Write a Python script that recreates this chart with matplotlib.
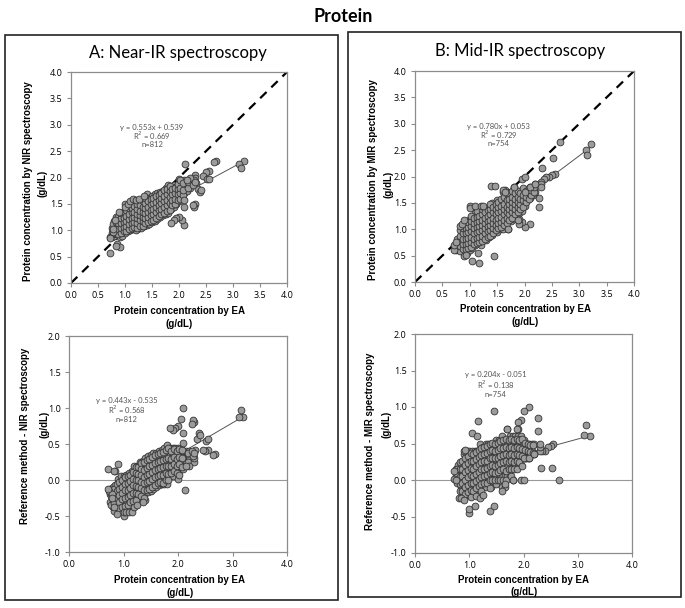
import numpy as np
import matplotlib
matplotlib.use("Agg")
import matplotlib.pyplot as plt
from matplotlib.patches import Rectangle

# (EA, NIR) protein values, g/dL
nir_points = np.array([
    (0.75, 0.88), (0.75, 0.95), (0.75, 1.05),
    (0.80, 0.90), (0.80, 1.00), (0.80, 1.10), (0.80, 1.18),
    (0.85, 0.92), (0.85, 1.02), (0.85, 1.12), (0.85, 1.20),
    (0.90, 0.88), (0.90, 0.98), (0.90, 1.08), (0.90, 1.15), (0.90, 1.22),
    (0.95, 0.90), (0.95, 1.00), (0.95, 1.10), (0.95, 1.18), (0.95, 1.28),
    (1.00, 0.95), (1.00, 1.03), (1.00, 1.12), (1.00, 1.20), (1.00, 1.30),
    (1.05, 0.98), (1.05, 1.06), (1.05, 1.15), (1.05, 1.25), (1.05, 1.35),
    (1.10, 1.00), (1.10, 1.08), (1.10, 1.18), (1.10, 1.28), (1.10, 1.38), (1.10, 1.45),
    (1.15, 1.02), (1.15, 1.12), (1.15, 1.20), (1.15, 1.30), (1.15, 1.40),
    (1.20, 1.00), (1.20, 1.10), (1.20, 1.18), (1.20, 1.26), (1.20, 1.35), (1.20, 1.45),
    (1.25, 1.05), (1.25, 1.15), (1.25, 1.22), (1.25, 1.32), (1.25, 1.42), (1.25, 1.52),
    (1.30, 1.05), (1.30, 1.12), (1.30, 1.22), (1.30, 1.30), (1.30, 1.40), (1.30, 1.50),
    (1.35, 1.08), (1.35, 1.18), (1.35, 1.28), (1.35, 1.36), (1.35, 1.45), (1.35, 1.55),
    (1.40, 1.10), (1.40, 1.20), (1.40, 1.30), (1.40, 1.38), (1.40, 1.48), (1.40, 1.58), (1.40, 1.68),
    (1.45, 1.12), (1.45, 1.22), (1.45, 1.32), (1.45, 1.42), (1.45, 1.52), (1.45, 1.62),
    (1.50, 1.15), (1.50, 1.25), (1.50, 1.35), (1.50, 1.45), (1.50, 1.55), (1.50, 1.65),
    (1.55, 1.18), (1.55, 1.28), (1.55, 1.38), (1.55, 1.48), (1.55, 1.58), (1.55, 1.68),
    (1.60, 1.22), (1.60, 1.32), (1.60, 1.42), (1.60, 1.50), (1.60, 1.60), (1.60, 1.70),
    (1.65, 1.25), (1.65, 1.35), (1.65, 1.45), (1.65, 1.55), (1.65, 1.65), (1.65, 1.72),
    (1.70, 1.28), (1.70, 1.38), (1.70, 1.48), (1.70, 1.58), (1.70, 1.68), (1.70, 1.75),
    (1.75, 1.30), (1.75, 1.42), (1.75, 1.52), (1.75, 1.62), (1.75, 1.72), (1.75, 1.80),
    (1.80, 1.32), (1.80, 1.45), (1.80, 1.55), (1.80, 1.65), (1.80, 1.75), (1.80, 1.85),
    (1.85, 1.40), (1.85, 1.50), (1.85, 1.60), (1.85, 1.70), (1.85, 1.80),
    (1.90, 1.45), (1.90, 1.55), (1.90, 1.65), (1.90, 1.75), (1.90, 1.85),
    (1.95, 1.50), (1.95, 1.62), (1.95, 1.72), (1.95, 1.82),
    (2.00, 1.55), (2.00, 1.65), (2.00, 1.75), (2.00, 1.90), (2.00, 1.98),
    (2.05, 1.62), (2.05, 1.72), (2.05, 1.85), (2.10, 1.45), (2.10, 1.70),
    (2.10, 1.80), (2.10, 1.95), (2.15, 1.75), (2.15, 1.88), (2.20, 1.80), (2.20, 1.92),
    # in-between points of the dense cloud
    (0.775, 0.92), (0.775, 1.00), (0.775, 1.12),
    (0.825, 0.95), (0.825, 1.05), (0.825, 1.15), (0.825, 1.25),
    (0.875, 0.93), (0.875, 1.03), (0.875, 1.13), (0.875, 1.25),
    (0.925, 0.95), (0.925, 1.05), (0.925, 1.13), (0.925, 1.23), (0.925, 1.32),
    (0.975, 0.98), (0.975, 1.07), (0.975, 1.16), (0.975, 1.24), (0.975, 1.35),
    (1.025, 0.99), (1.025, 1.08), (1.025, 1.17), (1.025, 1.27), (1.025, 1.38),
    (1.075, 1.02), (1.075, 1.11), (1.075, 1.21), (1.075, 1.31), (1.075, 1.42),
    (1.125, 1.05), (1.125, 1.14), (1.125, 1.24), (1.125, 1.34), (1.125, 1.43),
    (1.175, 1.06), (1.175, 1.16), (1.175, 1.25), (1.175, 1.35), (1.175, 1.46),
    (1.225, 1.04), (1.225, 1.13), (1.225, 1.23), (1.225, 1.31), (1.225, 1.40), (1.225, 1.50),
    (1.275, 1.09), (1.275, 1.19), (1.275, 1.28), (1.275, 1.37), (1.275, 1.47),
    (1.325, 1.09), (1.325, 1.17), (1.325, 1.26), (1.325, 1.35), (1.325, 1.44), (1.325, 1.55),
    (1.375, 1.13), (1.375, 1.23), (1.375, 1.33), (1.375, 1.42), (1.375, 1.51), (1.375, 1.62),
    (1.425, 1.15), (1.425, 1.26), (1.425, 1.35), (1.425, 1.45), (1.425, 1.56),
    (1.475, 1.18), (1.475, 1.28), (1.475, 1.39), (1.475, 1.49), (1.475, 1.60),
    (1.525, 1.20), (1.525, 1.31), (1.525, 1.41), (1.525, 1.51), (1.525, 1.62),
    (1.575, 1.23), (1.575, 1.34), (1.575, 1.44), (1.575, 1.54), (1.575, 1.64),
    (1.625, 1.27), (1.625, 1.38), (1.625, 1.47), (1.625, 1.57), (1.625, 1.67),
    (1.675, 1.30), (1.675, 1.41), (1.675, 1.51), (1.675, 1.61), (1.675, 1.70),
    (1.725, 1.33), (1.725, 1.45), (1.725, 1.55), (1.725, 1.65), (1.725, 1.76),
    (1.775, 1.36), (1.775, 1.48), (1.775, 1.58), (1.775, 1.68), (1.775, 1.78),
    (1.825, 1.38), (1.825, 1.52), (1.825, 1.63), (1.825, 1.74), (1.825, 1.83),
    (1.875, 1.47), (1.875, 1.58), (1.875, 1.68), (1.875, 1.78),
    (1.925, 1.50), (1.925, 1.60), (1.925, 1.70), (1.925, 1.80),
    (1.975, 1.57), (1.975, 1.68), (1.975, 1.78), (1.975, 1.88),
    (2.025, 1.60), (2.025, 1.70), (2.025, 1.80), (2.025, 1.95),
    (2.075, 1.66), (2.075, 1.77), (2.075, 1.90), (2.175, 1.80), (2.175, 1.92),
    # scattered points away from the main cloud
    (2.12, 2.26), (2.68, 2.32), (3.20, 2.32), (3.12, 2.25), (3.15, 2.18),
    (2.55, 2.13), (2.50, 2.10), (2.45, 2.03), (2.52, 1.98), (2.30, 2.05),
    (2.30, 2.00), (2.28, 1.95), (2.32, 1.90), (2.35, 1.78), (2.38, 1.73),
    (2.30, 1.50), (2.28, 1.45), (2.25, 1.47), (2.10, 1.10), (2.05, 1.20),
    (2.00, 1.25), (1.95, 1.23), (1.90, 1.20), (1.85, 1.13), (0.72, 0.57),
    (0.85, 0.73), (0.90, 0.68), (0.73, 0.88), (0.78, 0.97), (0.88, 1.35),
    (1.00, 1.50), (1.00, 1.45), (1.05, 1.50), (1.10, 1.55), (1.15, 1.60),
    (1.20, 1.58), (1.25, 1.60), (1.35, 1.65), (2.40, 1.77), (2.55, 1.98),
    (2.65, 2.30), (2.20, 2.00), (2.15, 1.95), (2.25, 1.85), (2.30, 1.92),
    (0.72, 0.85), (0.78, 1.03), (0.82, 1.19), (0.83, 0.71), (2.10, 1.58),
])

# (EA, MIR) protein values, g/dL
mir_points = np.array([
    (0.75, 0.60), (0.75, 0.70), (0.80, 0.60), (0.80, 0.70), (0.80, 0.80),
    (0.85, 0.65), (0.85, 0.75), (0.85, 0.85), (0.85, 0.95),
    (0.90, 0.55), (0.90, 0.65), (0.90, 0.75), (0.90, 0.85), (0.90, 0.95), (0.90, 1.05),
    (0.95, 0.55), (0.95, 0.70), (0.95, 0.80), (0.95, 0.90), (0.95, 1.00), (0.95, 1.10),
    (1.00, 0.60), (1.00, 0.70), (1.00, 0.80), (1.00, 0.90), (1.00, 1.00), (1.00, 1.10), (1.00, 1.20),
    (1.05, 0.65), (1.05, 0.75), (1.05, 0.85), (1.05, 0.95), (1.05, 1.05), (1.05, 1.15),
    (1.10, 0.70), (1.10, 0.80), (1.10, 0.90), (1.10, 1.00), (1.10, 1.10), (1.10, 1.20), (1.10, 1.30),
    (1.15, 0.75), (1.15, 0.85), (1.15, 0.95), (1.15, 1.05), (1.15, 1.15), (1.15, 1.25),
    (1.20, 0.70), (1.20, 0.80), (1.20, 0.90), (1.20, 1.00), (1.20, 1.10), (1.20, 1.20), (1.20, 1.30),
    (1.25, 0.80), (1.25, 0.90), (1.25, 1.00), (1.25, 1.10), (1.25, 1.20), (1.25, 1.30),
    (1.30, 0.80), (1.30, 0.90), (1.30, 1.00), (1.30, 1.10), (1.30, 1.20), (1.30, 1.30), (1.30, 1.40),
    (1.35, 0.85), (1.35, 0.95), (1.35, 1.05), (1.35, 1.15), (1.35, 1.25), (1.35, 1.35),
    (1.40, 0.90), (1.40, 1.00), (1.40, 1.10), (1.40, 1.20), (1.40, 1.30), (1.40, 1.40), (1.40, 1.50),
    (1.45, 0.95), (1.45, 1.05), (1.45, 1.15), (1.45, 1.25), (1.45, 1.35), (1.45, 1.45),
    (1.50, 0.95), (1.50, 1.05), (1.50, 1.15), (1.50, 1.25), (1.50, 1.35), (1.50, 1.45), (1.50, 1.55),
    (1.55, 1.00), (1.55, 1.10), (1.55, 1.20), (1.55, 1.30), (1.55, 1.40), (1.55, 1.50),
    (1.60, 1.00), (1.60, 1.10), (1.60, 1.20), (1.60, 1.30), (1.60, 1.40), (1.60, 1.55), (1.60, 1.70),
    (1.65, 1.10), (1.65, 1.25), (1.65, 1.35), (1.65, 1.45), (1.65, 1.60), (1.65, 1.75),
    (1.70, 1.00), (1.70, 1.20), (1.70, 1.30), (1.70, 1.40), (1.70, 1.50), (1.70, 1.65),
    (1.75, 1.15), (1.75, 1.25), (1.75, 1.35), (1.75, 1.50), (1.75, 1.60), (1.75, 1.70),
    (1.80, 1.20), (1.80, 1.30), (1.80, 1.45), (1.80, 1.55), (1.80, 1.65), (1.80, 1.80),
    (1.85, 1.25), (1.85, 1.40), (1.85, 1.55), (1.85, 1.65),
    (1.90, 1.30), (1.90, 1.45), (1.90, 1.60), (1.90, 1.70),
    (1.95, 1.35), (1.95, 1.50), (1.95, 1.65), (1.95, 1.75),
    (2.00, 1.45), (2.00, 1.60), (2.00, 1.70), (2.05, 1.55), (2.05, 1.65), (2.05, 1.75),
    (2.10, 1.60), (2.10, 1.70), (2.10, 1.80), (2.15, 1.65), (2.15, 1.75), (2.20, 1.70), (2.20, 1.85),
    # in-between points of the dense cloud
    (0.775, 0.62), (0.775, 0.72), (0.775, 0.82),
    (0.825, 0.58), (0.825, 0.68), (0.825, 0.78), (0.825, 0.88), (0.825, 0.98),
    (0.875, 0.62), (0.875, 0.72), (0.875, 0.82), (0.875, 0.92), (0.875, 1.02),
    (0.925, 0.62), (0.925, 0.72), (0.925, 0.82), (0.925, 0.92), (0.925, 1.02), (0.925, 1.12),
    (0.975, 0.64), (0.975, 0.74), (0.975, 0.84), (0.975, 0.94), (0.975, 1.04), (0.975, 1.14),
    (1.025, 0.66), (1.025, 0.76), (1.025, 0.86), (1.025, 0.96), (1.025, 1.06), (1.025, 1.16), (1.025, 1.26),
    (1.075, 0.72), (1.075, 0.82), (1.075, 0.92), (1.075, 1.02), (1.075, 1.12), (1.075, 1.22),
    (1.125, 0.74), (1.125, 0.84), (1.125, 0.94), (1.125, 1.04), (1.125, 1.14), (1.125, 1.24), (1.125, 1.34),
    (1.175, 0.76), (1.175, 0.86), (1.175, 0.96), (1.175, 1.06), (1.175, 1.16), (1.175, 1.26),
    (1.225, 0.78), (1.225, 0.88), (1.225, 0.98), (1.225, 1.08), (1.225, 1.18), (1.225, 1.28), (1.225, 1.38),
    (1.275, 0.82), (1.275, 0.92), (1.275, 1.02), (1.275, 1.12), (1.275, 1.22), (1.275, 1.32),
    (1.325, 0.86), (1.325, 0.96), (1.325, 1.06), (1.325, 1.16), (1.325, 1.26), (1.325, 1.36),
    (1.375, 0.88), (1.375, 0.98), (1.375, 1.08), (1.375, 1.18), (1.375, 1.28), (1.375, 1.38), (1.375, 1.48),
    (1.425, 0.92), (1.425, 1.02), (1.425, 1.12), (1.425, 1.22), (1.425, 1.32), (1.425, 1.42),
    (1.475, 0.98), (1.475, 1.08), (1.475, 1.18), (1.475, 1.28), (1.475, 1.38), (1.475, 1.48),
    (1.525, 1.02), (1.525, 1.12), (1.525, 1.22), (1.525, 1.32), (1.525, 1.42), (1.525, 1.52),
    (1.575, 1.04), (1.575, 1.14), (1.575, 1.24), (1.575, 1.34), (1.575, 1.44), (1.575, 1.58),
    (1.625, 1.08), (1.625, 1.18), (1.625, 1.28), (1.625, 1.38), (1.625, 1.48), (1.625, 1.62),
    (1.675, 1.12), (1.675, 1.22), (1.675, 1.32), (1.675, 1.42), (1.675, 1.55), (1.675, 1.68),
    (1.725, 1.18), (1.725, 1.28), (1.725, 1.38), (1.725, 1.48), (1.725, 1.58),
    (1.775, 1.22), (1.775, 1.32), (1.775, 1.42), (1.775, 1.52), (1.775, 1.62), (1.775, 1.72),
    (1.825, 1.28), (1.825, 1.38), (1.825, 1.48), (1.825, 1.58), (1.825, 1.68),
    (1.875, 1.32), (1.875, 1.42), (1.875, 1.52), (1.875, 1.62), (1.875, 1.72),
    (1.925, 1.38), (1.925, 1.48), (1.925, 1.58), (1.925, 1.68),
    (1.975, 1.42), (1.975, 1.55), (1.975, 1.65), (1.975, 1.78),
    (2.025, 1.52), (2.025, 1.62), (2.025, 1.72), (2.075, 1.58), (2.075, 1.68), (2.075, 1.78),
    (2.125, 1.64), (2.125, 1.74), (2.175, 1.70), (2.175, 1.80),
    # scattered points away from the main cloud
    (3.22, 2.62), (3.12, 2.50), (3.15, 2.40), (2.52, 2.36), (2.32, 2.16),
    (2.55, 2.05), (2.50, 2.03), (2.45, 2.00), (2.40, 2.00), (2.35, 1.95),
    (2.30, 1.90), (2.30, 1.85), (2.30, 1.80), (2.27, 1.60), (2.27, 1.42),
    (2.10, 1.10), (2.00, 1.05), (1.95, 1.13), (1.90, 1.10), (1.90, 1.20),
    (1.45, 0.50), (1.17, 0.36), (1.05, 0.40), (1.15, 0.55), (0.90, 0.50),
    (0.93, 0.52), (1.39, 1.82), (1.46, 1.82), (1.00, 1.45), (1.00, 1.40),
    (1.10, 1.45), (1.20, 1.45), (1.25, 1.45), (0.82, 1.07), (0.85, 1.10),
    (0.90, 1.18), (2.65, 2.65), (1.95, 1.95), (2.00, 2.00), (1.70, 1.00),
    (1.88, 1.18), (1.60, 1.75), (1.65, 1.70), (1.80, 1.80), (2.00, 1.70),
    (2.10, 1.80), (2.20, 1.85), (0.72, 0.60), (0.72, 0.70), (0.75, 0.75),
])

# fitted lines and their labels as printed on the chart
nir_fit = (0.553, 0.539)
mir_fit = (0.780, 0.053)
nir_diff_fit = (0.443, -0.535)
mir_diff_fit = (0.204, -0.051)
nir_labels = ["y = 0.553x + 0.539", "R$^2$ = 0.669", "n=812"]
mir_labels = ["y = 0.780x + 0.053", "R$^2$ = 0.729", "n=754"]
nir_diff_labels = ["y = 0.443x - 0.535", "R$^2$ = 0.568", "n=812"]
mir_diff_labels = ["y = 0.204x - 0.051", "R$^2$ = 0.138", "n=754"]

W, H = 685, 608
fig = plt.figure(figsize=(W / 100, H / 100), dpi=100)

TICKFONT = "Open Sans"
TITLEFONT = "Lato"
LABFONT = "Liberation Sans"


def px_axes(l, t, r, b):
    return fig.add_axes([l / W, 1 - b / H, (r - l) / W, (b - t) / H])


def style(ax):
    for s in ax.spines.values():
        s.set_color("#8c8c8c")
        s.set_linewidth(0.9)
    ax.tick_params(direction="out", length=3, width=0.8, color="#8c8c8c",
                   labelsize=6.5, pad=3)
    for lab in ax.get_xticklabels() + ax.get_yticklabels():
        lab.set_fontfamily(TICKFONT)


def scatter(ax, x, y, fit, labels, lx, ly, dy):
    xx = np.array([x.min(), x.max()])
    ax.plot(xx, fit[0] * xx + fit[1], color="#555555", lw=0.7, zorder=1)
    ax.scatter(x, y, s=24, facecolor="#9b9b9b", edgecolor="#333333",
               linewidth=0.6, zorder=3)
    for i, t in enumerate(labels):
        ax.text(lx, ly - i * dy, t, ha="center", va="center", fontsize=5.5,
                color="#555555", family=TITLEFONT)


def fig_text(x, y, s, **kw):
    fig.text(x / W, 1 - y / H, s, **kw)


ea_nir, nir = nir_points[:, 0], nir_points[:, 1]
ea_mir, mir = mir_points[:, 0], mir_points[:, 1]
nir_diff = ea_nir - nir
mir_diff = ea_mir - mir

# --- top panels: method vs EA
for (l, t, r, b), x, y, fit, labels, lx in [
        ((71, 72, 287, 283), ea_nir, nir, nir_fit, nir_labels, 1.5),
        ((415, 71, 634, 282), ea_mir, mir, mir_fit, mir_labels, 1.53)]:
    ax = px_axes(l, t, r, b)
    ax.plot([0, 4], [0, 4], color="black", lw=1.6, ls=(0, (4, 3)), zorder=2)
    scatter(ax, x, y, fit, labels, lx, 2.95, 0.165)
    ax.set_xlim(0, 4)
    ax.set_ylim(0, 4)
    ticks = np.arange(0, 4.01, 0.5)
    ax.set_xticks(ticks)
    ax.set_yticks(ticks)
    ax.set_xticklabels([f"{v:.1f}" for v in ticks])
    ax.set_yticklabels([f"{v:.1f}" for v in ticks])
    style(ax)

# --- bottom panels: difference vs EA
for (l, t, r, b), x, y, fit, labels, lx, ly in [
        ((69, 336, 287, 552), ea_nir, nir_diff, nir_diff_fit, nir_diff_labels, 1.06, 1.11),
        ((415, 334, 632, 553), ea_mir, mir_diff, mir_diff_fit, mir_diff_labels, 1.49, 1.44)]:
    ax = px_axes(l, t, r, b)
    ax.axhline(0, color="#999999", lw=0.8, zorder=1)
    scatter(ax, x, y, fit, labels, lx, ly, 0.135)
    ax.set_xlim(0, 4)
    ax.set_ylim(-1, 2)
    xt = np.arange(0, 4.01, 1.0)
    yt = np.arange(-1, 2.01, 0.5)
    ax.set_xticks(xt)
    ax.set_yticks(yt)
    ax.set_xticklabels([f"{v:.1f}" for v in xt])
    ax.set_yticklabels([f"{v:.1f}" for v in yt])
    style(ax)

# axis labels, each line placed on its own
lab_kw = dict(fontsize=7, fontweight="bold", family=LABFONT, ha="center",
              va="center")
xl1, xl2 = "Protein concentration by EA", "(g/dL)"
for cx, y1, y2 in [(179, 311, 324), (525, 309, 322), (180, 580, 593), (524, 580, 592)]:
    fig_text(cx, y1, xl1, **lab_kw)
    fig_text(cx, y2, xl2, **lab_kw)

for x1, x2, cy, cy2, text in [
        (28, 42, 181, 183, "Protein concentration by NIR spectroscopy"),
        (373, 388, 180, 184, "Protein concentration by MIR spectroscopy"),
        (25, 45, 436, 424, "Reference method - NIR spectroscopy"),
        (370, 387, 441, 424, "Reference method - MIR spectroscopy")]:
    fig_text(x1, cy, text, rotation=90, **lab_kw)
    fig_text(x2, cy2, "(g/dL)", rotation=90, **lab_kw)

# titles
fig_text(343, 16, "Protein", fontsize=13, fontweight="bold", family=TITLEFONT,
         ha="center", va="center")
fig_text(178, 53, "A: Near-IR spectroscopy", fontsize=12, family=TITLEFONT,
         ha="center", va="center")
fig_text(520, 51, "B: Mid-IR spectroscopy", fontsize=12, family=TITLEFONT,
         ha="center", va="center")

# panel frames
for l, t, r, b in [(5, 35, 338, 600), (348, 32, 681, 597)]:
    fig.patches.append(Rectangle((l / W, 1 - b / H), (r - l) / W, (b - t) / H,
                                 transform=fig.transFigure, fill=False,
                                 edgecolor="#222222", lw=1.2))

fig.savefig("out.png", dpi=100)
